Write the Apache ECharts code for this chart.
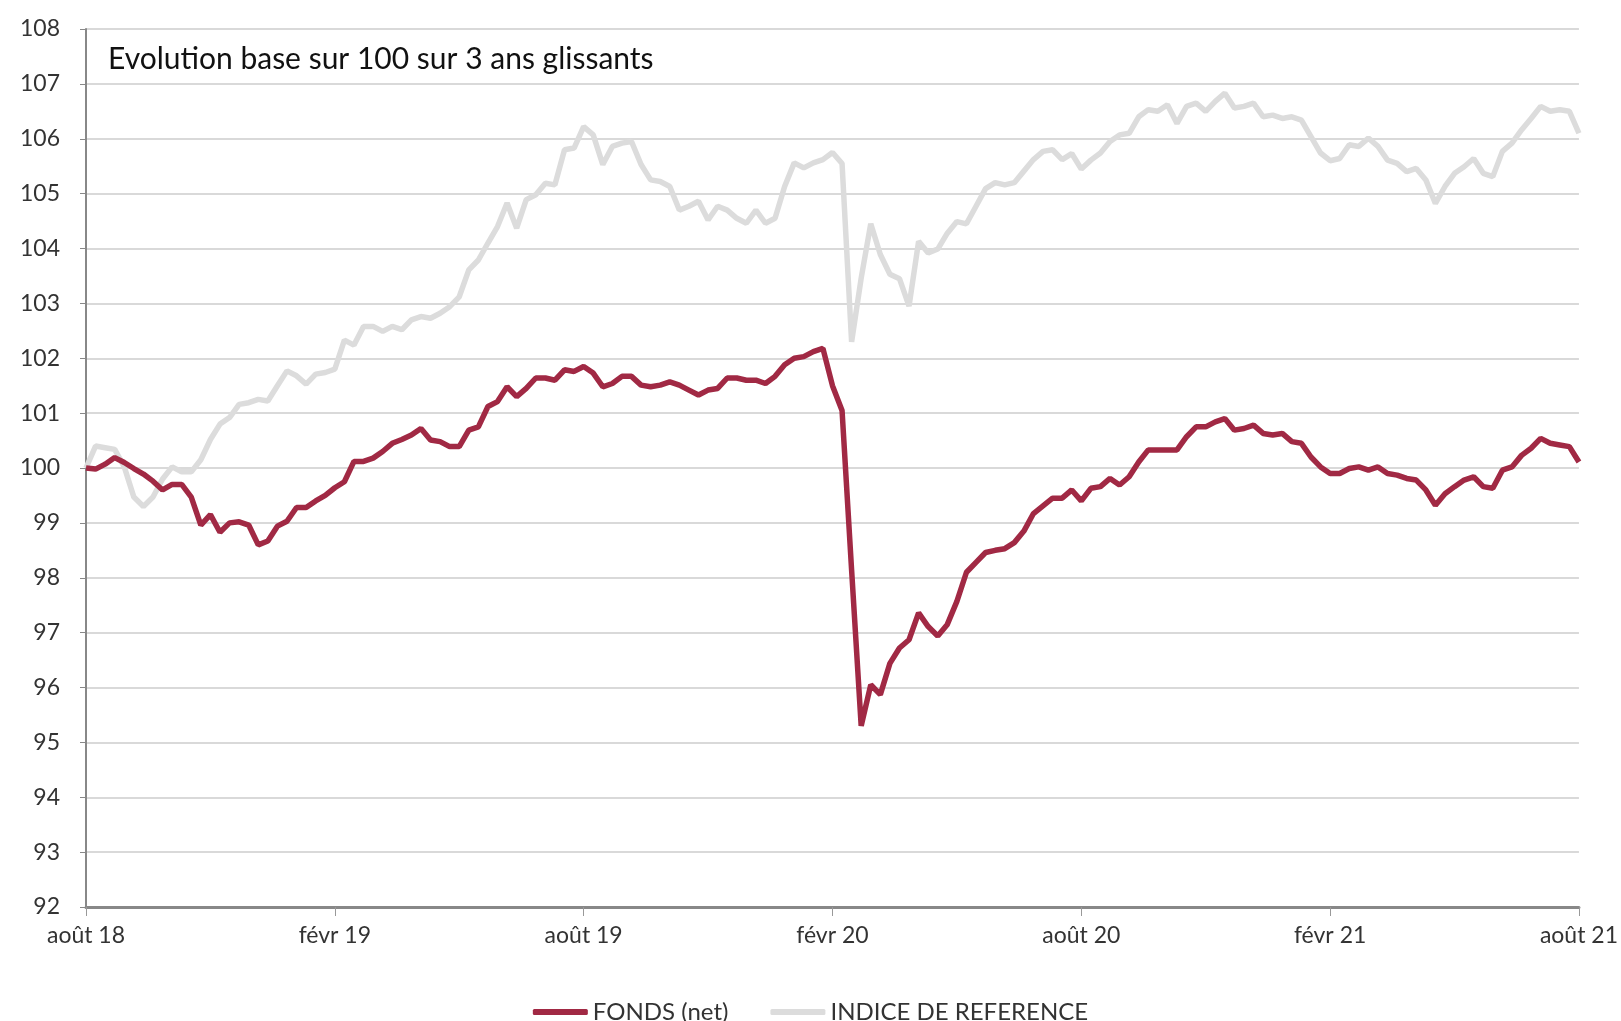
<!DOCTYPE html>
<html>
<head>
<meta charset="utf-8">
<script src="https://cdn.jsdelivr.net/npm/echarts@6/dist/echarts.min.js"></script>
<style>
  html, body { margin: 0; padding: 0; background: #fff; }
  #chart { width: 1621px; height: 1021px; }
</style>
</head>
<body>
<div id="chart"></div>
<script>
// one point per week, aug 2018 -> aug 2021
const tickLabels = ["août 18", "févr 19", "août 19", "févr 20", "août 20", "févr 21", "août 21"];

const fonds = [
  100.0, 99.98, 100.07, 100.19, 100.1, 99.99, 99.89, 99.76, 99.6, 99.7, 99.7, 99.47, 98.96, 99.15, 98.83, 99.0, 99.02, 98.96, 98.6, 98.67, 98.94, 99.03, 99.28, 99.28, 99.4, 99.5, 99.64,
  99.75, 100.12, 100.12, 100.18, 100.3, 100.45, 100.52, 100.6, 100.72, 100.51, 100.48, 100.39, 100.39, 100.69, 100.75, 101.12, 101.21, 101.48, 101.3, 101.45, 101.64, 101.64, 101.6, 101.79, 101.76, 101.85,
  101.73, 101.48, 101.54, 101.67, 101.67, 101.51, 101.48, 101.51, 101.57, 101.51, 101.42, 101.33, 101.42, 101.45, 101.64, 101.64, 101.6, 101.6, 101.54, 101.67, 101.88, 102.0, 102.03, 102.12, 102.18, 101.5,
  101.05, 98.14, 95.3, 96.05, 95.87, 96.44, 96.72, 96.87, 97.36, 97.11, 96.94, 97.15, 97.57, 98.1, 98.28, 98.46, 98.5, 98.53, 98.64, 98.85, 99.17, 99.31, 99.45, 99.45, 99.6, 99.4,
  99.63, 99.66, 99.81, 99.69, 99.84, 100.11, 100.33, 100.33, 100.33, 100.33, 100.57, 100.75, 100.75, 100.84, 100.9, 100.69, 100.72, 100.78, 100.63, 100.6, 100.63, 100.48, 100.45, 100.2, 100.02, 99.9,
  99.9, 99.99, 100.02, 99.96, 100.02, 99.9, 99.87, 99.81, 99.78, 99.6, 99.32, 99.53, 99.66, 99.78, 99.84, 99.66, 99.63, 99.96, 100.02, 100.23, 100.36, 100.54, 100.45, 100.42, 100.39, 100.11
];

const indice = [
  100.0, 100.4, 100.37, 100.34, 100.02, 99.47, 99.3, 99.47, 99.8, 100.02, 99.93, 99.93, 100.15, 100.52, 100.8, 100.92, 101.16, 101.19, 101.25, 101.22, 101.5, 101.77, 101.68, 101.53, 101.71, 101.74, 101.8,
  102.33, 102.24, 102.58, 102.58, 102.49, 102.58, 102.52, 102.7, 102.76, 102.73, 102.82, 102.94, 103.12, 103.61, 103.79, 104.1, 104.4, 104.83, 104.37, 104.89, 104.98, 105.19, 105.16, 105.8, 105.83, 106.22,
  106.07, 105.53, 105.86, 105.92, 105.95, 105.53, 105.25, 105.22, 105.13, 104.7, 104.77, 104.86, 104.52, 104.77, 104.7, 104.55, 104.46, 104.7, 104.46, 104.55, 105.13, 105.56, 105.47, 105.56, 105.62, 105.75,
  105.55, 102.3, 103.46, 104.45, 103.89, 103.53, 103.45, 102.95, 104.13, 103.92, 103.99, 104.28, 104.49, 104.45, 104.77, 105.09, 105.2, 105.16, 105.2, 105.41, 105.62, 105.77, 105.8, 105.62, 105.73, 105.45,
  105.61, 105.74, 105.95, 106.07, 106.1, 106.4, 106.53, 106.5, 106.62, 106.28, 106.59, 106.65, 106.5, 106.68, 106.83, 106.56, 106.59, 106.65, 106.4, 106.43, 106.37, 106.4, 106.34, 106.04, 105.74, 105.6,
  105.64, 105.89, 105.86, 106.01, 105.86, 105.61, 105.55, 105.4, 105.46, 105.25, 104.82, 105.13, 105.37, 105.49, 105.64, 105.37, 105.31, 105.77, 105.92, 106.16, 106.37, 106.59, 106.5, 106.53, 106.5, 106.1
];

// week dates used as categories
const start = new Date(2018, 7, 1);
const weeks = fonds.map((v, i) => {
  const d = new Date(start.getTime() + i * 7 * 86400000);
  return d.toISOString().slice(0, 10);
});

const font = "Lato";
const chart = echarts.init(document.getElementById("chart"));

chart.setOption({
  animation: false,
  textStyle: { fontFamily: font },
  title: {
    text: "Evolution base sur 100 sur 3 ans glissants",
    left: 103,
    top: 39,
    textStyle: { fontFamily: font, fontSize: 30, fontWeight: "normal", color: "#111" },
  },
  legend: {
    bottom: -8,
    left: "center",
    itemWidth: 55,
    itemHeight: 6,
    itemGap: 42,
    icon: "roundRect",
    textStyle: { fontFamily: font, fontSize: 24, color: "#333" },
    data: ["FONDS (net)", "INDICE DE REFERENCE"],
  },
  grid: { left: 86, right: 40, top: 29, bottom: 114 },
  xAxis: {
    type: "category",
    data: weeks,
    boundaryGap: false,
    axisLine: { lineStyle: { color: "#888", width: 3 } },
    axisTick: { interval: 25, length: 9, lineStyle: { color: "#999", width: 1 } },
    axisLabel: {
      interval: 25,
      margin: 17,
      fontSize: 23,
      color: "#333",
      fontFamily: font,
      formatter: (v, idx) => tickLabels[Math.round(idx / 26)],
    },
    splitLine: { show: false },
  },
  yAxis: {
    type: "value",
    min: 92,
    max: 108,
    interval: 1,
    axisLine: { show: true, lineStyle: { color: "#888", width: 2 } },
    axisTick: { show: true, length: 6, lineStyle: { color: "#888", width: 1 } },
    axisLabel: { margin: 26, fontSize: 23, color: "#333", fontFamily: font },
    splitLine: { lineStyle: { color: "#d9d9d9", width: 2 } },
  },
  series: [
    {
      name: "FONDS (net)",
      type: "line",
      data: fonds,
      showSymbol: false,
      z: 3,
      itemStyle: { color: "#a12944" },
      lineStyle: { color: "#a12944", width: 5.5 },
    },
    {
      name: "INDICE DE REFERENCE",
      type: "line",
      data: indice,
      showSymbol: false,
      z: 2,
      itemStyle: { color: "#dcdcdc" },
      lineStyle: { color: "#dcdcdc", width: 5.5 },
    },
  ],
});
</script>
</body>
</html>
